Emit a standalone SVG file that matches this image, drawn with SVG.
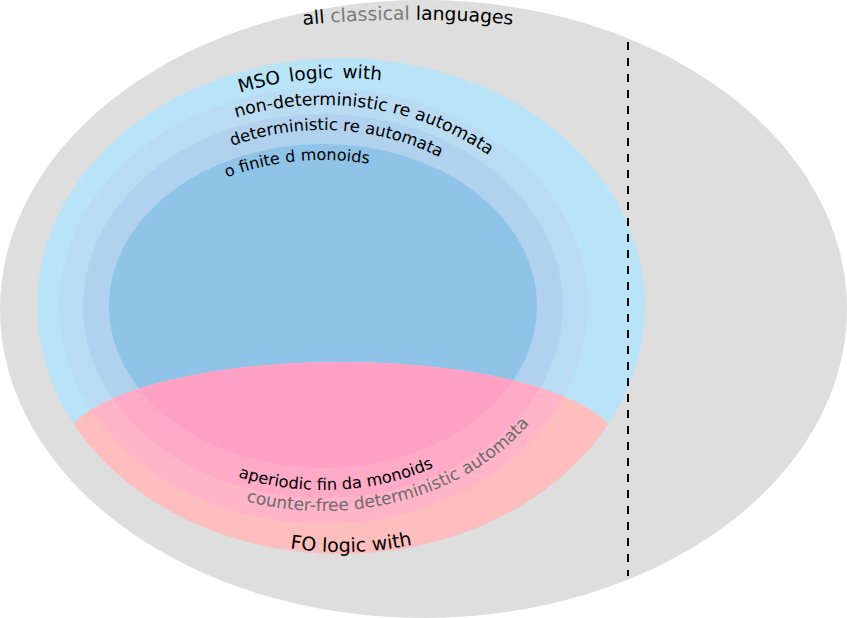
<svg xmlns="http://www.w3.org/2000/svg" width="847" height="618" viewBox="0 0 847 618">
  <style>
    .lbl { font-family: "DejaVu Sans", "Liberation Sans", sans-serif; fill: #000; }
    .dim { fill: #6f6a6f; }
    .gray { fill: #7a7a7a; }
    .divider { stroke: #000; stroke-width: 2; stroke-dasharray: 8 8; fill: none; }
  </style>
  <defs>
    <!-- region below the first-order boundary arc -->
    <clipPath id="fo-clip">
      <path d="M 61 449 A 280 87 0 0 1 621 449 L 621 618 L 61 618 Z"/>
    </clipPath>
    <!-- baselines for the curved labels -->
    <path id="p-all" d="M 303 25 A 1100 1100 0 0 1 560 30"/>
    <path id="p-mso" d="M 240 92.9 A 284 228 0 0 1 470 102.9"/>
    <path id="p-nfa" d="M 236 117.6 A 250 201 0 0 1 540 206.2"/>
    <path id="p-dfa" d="M 232 146.1 A 218 176 0 0 1 520 230.6"/>
    <path id="p-mon" d="M 227 177.6 A 202 146 0 0 1 480 214.2"/>
    <path id="p-aper" d="M 238 477 A 230 184 0 0 0 520 401"/>
    <path id="p-cf" d="M 246 501.2 A 252 205 0 0 0 570 346.6"/>
    <path id="p-fo" d="M 290 548.3 A 296 246 0 0 0 480 523.2"/>
  </defs>

  <!-- all classical languages -->
  <g id="all-classical">
    <ellipse cx="423.5" cy="309" rx="423.5" ry="309" fill="#dedede"/>
  </g>

  <!-- MSO-definable / regular family -->
  <g id="mso">
    <ellipse cx="341" cy="306" rx="304" ry="248" fill="#b9e4f8"/>
  </g>
  <g id="nfa">
    <ellipse cx="323.5" cy="306" rx="264.5" ry="218" fill="#badcf3"/>
  </g>
  <g id="dfa">
    <ellipse cx="323" cy="306" rx="240" ry="192" fill="#b0d2ee"/>
  </g>
  <g id="finite-monoids">
    <ellipse cx="323" cy="306" rx="214" ry="162" fill="#8fc3e8"/>
  </g>

  <!-- FO-definable part, tinted over each layer -->
  <g id="fo" clip-path="url(#fo-clip)">
    <ellipse cx="341" cy="306" rx="304" ry="248" fill="#ffbebe"/>
    <ellipse cx="323.5" cy="306" rx="264.5" ry="218" fill="#ffb4c8"/>
    <ellipse cx="323" cy="306" rx="240" ry="192" fill="#ffabc8"/>
    <ellipse cx="323" cy="306" rx="214" ry="162" fill="#ffa0c5"/>
  </g>

  <!-- dashed separator -->
  <g id="separator">
    <line class="divider" x1="628" y1="42" x2="628" y2="576"/>
  </g>

  <!-- labels -->
  <g id="labels">
    <text class="lbl" font-size="18.8"><textPath href="#p-all">all <tspan class="gray">classical</tspan> languages</textPath></text>
    <text class="lbl" font-size="18.5" word-spacing="3"><textPath href="#p-mso">MSO logic with</textPath></text>
    <text class="lbl" font-size="17.3"><textPath href="#p-nfa">non-deterministic re automata</textPath></text>
    <text class="lbl" font-size="16.4"><textPath href="#p-dfa">deterministic re automata</textPath></text>
    <text class="lbl" font-size="16"><textPath href="#p-mon">o finite d monoids</textPath></text>
    <text class="lbl" font-size="16.2"><textPath href="#p-aper">aperiodic fin da monoids</textPath></text>
    <text class="lbl dim" font-size="17"><textPath href="#p-cf">counter-free deterministic automata</textPath></text>
    <text class="lbl" font-size="19"><textPath href="#p-fo">FO logic with</textPath></text>
  </g>
</svg>
